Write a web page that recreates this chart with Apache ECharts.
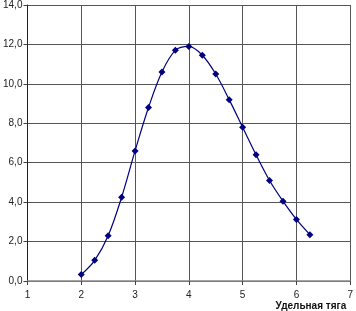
<!DOCTYPE html>
<html><head><meta charset="utf-8">
<script src="https://cdn.jsdelivr.net/npm/echarts@6/dist/echarts.min.js"></script>
<style>html,body{margin:0;padding:0;background:#fff}#c{width:356px;height:311px}</style>
</head><body><div id="c"></div>
<script>
const xValues = [2, 2.25, 2.5, 2.75, 3, 3.25, 3.5, 3.75, 4, 4.25, 4.5, 4.75, 5, 5.25, 5.5, 5.75, 6, 6.25];
const yValues = [0.33, 1.05, 2.3, 4.25, 6.6, 8.8, 10.6, 11.7, 11.9, 11.45, 10.5, 9.2, 7.8, 6.4, 5.1, 4.05, 3.12, 2.35];
const xAxisName = 'Удельная тяга';

const chart = echarts.init(document.getElementById('c'), null, {renderer: 'canvas'});
const font = 'Liberation Sans, Arial, sans-serif';
chart.setOption({
  animation: false,
  grid: {left: 27, right: 4, top: 3, bottom: 28, containLabel: false},
  xAxis: {
    type: 'value', min: 1, max: 7, interval: 1,
    name: xAxisName, nameLocation: 'end', nameGap: -4,
    nameTextStyle: {fontFamily: font, fontSize: 10, fontWeight: 'bold', color: '#111', align: 'right', verticalAlign: 'top', padding: [20, 0, 0, 0]},
    axisLine: {show: true, onZero: false, lineStyle: {color: '#888', width: 1.5}},
    axisTick: {show: true, length: 4, lineStyle: {color: '#444'}},
    axisLabel: {fontFamily: font, fontSize: 10, color: '#222', margin: 9},
    splitLine: {show: true, lineStyle: {color: '#555', width: 1}}
  },
  yAxis: {
    type: 'value', min: 0, max: 14, interval: 2,
    axisLine: {show: true, lineStyle: {color: '#222', width: 1}},
    axisTick: {show: true, length: 4, lineStyle: {color: '#444'}},
    axisLabel: {fontFamily: font, fontSize: 10, color: '#222', margin: 5,
      formatter: v => v.toFixed(1).replace('.', ',')},
    splitLine: {show: true, lineStyle: {color: '#555', width: 1}}
  },
  series: [{
    type: 'line', smooth: 0.35,
    data: xValues.map((x, i) => [x, yValues[i]]),
    symbol: 'diamond', symbolSize: 7,
    lineStyle: {color: '#000080', width: 1.2},
    itemStyle: {color: '#000080'}
  }]
});
</script></body></html>
